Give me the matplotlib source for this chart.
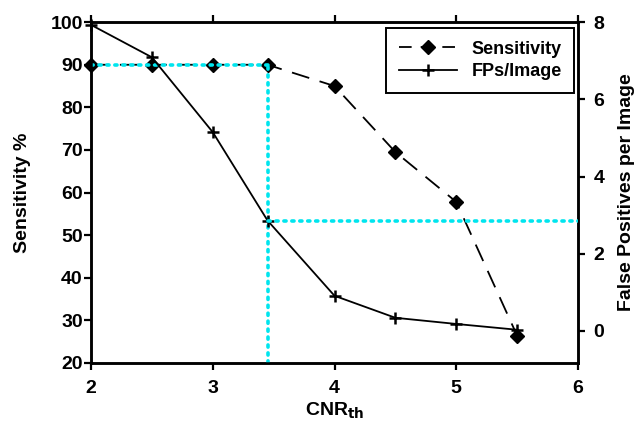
import matplotlib
matplotlib.use("Agg")
import matplotlib.pyplot as plt

plt.rcParams['font.family'] = ['Liberation Sans', 'DejaVu Sans']
plt.rcParams['font.weight'] = 'bold'

# data
cnr = [2, 2.5, 3, 3.45, 4, 4.5, 5, 5.5]
sensitivity = [90, 90, 90, 90, 85, 69.5, 57.8, 26.4]
fps = [7.93, 7.09, 5.15, 2.86, 0.91, 0.34, 0.18, 0.03]

op_cnr = 3.45
op_sens = 90
op_fp = 2.86

fig = plt.figure(figsize=(6.43, 4.26), dpi=100)
ax = fig.add_axes([0.1415, 0.148, 0.7575, 0.8])
ax2 = ax.twinx()

l1, = ax.plot(cnr, sensitivity, color='black', lw=1.3, dashes=(10, 6),
              marker='D', ms=7, mfc='black', mec='black', zorder=3, clip_on=False)
l2, = ax2.plot(cnr, fps, color='black', lw=1.3, marker='+', ms=8, mew=1.8,
               zorder=3, clip_on=False)

# operating point guides (cyan dotted)
cy = dict(color='#00e5ee', lw=2.6, ls=(0, (0.6, 1.6)), dash_capstyle='round', zorder=5)
ax.plot([cnr[0], op_cnr], [op_sens, op_sens], **cy)
ax.plot([op_cnr, op_cnr], [20, op_sens], **cy)
ax2.plot([op_cnr, 6], [op_fp, op_fp], **cy)
ax2.set_zorder(ax.get_zorder() + 1)
ax2.patch.set_visible(False)

ax.set_xlim(2, 6)
ax.set_ylim(20, 100)
ax2.set_ylim(-0.83, 8)
ax.set_xticks([2, 3, 4, 5, 6])
ax.set_yticks(range(20, 101, 10))
ax2.set_yticks([0, 2, 4, 6, 8])

for a in (ax, ax2):
    for s in a.spines.values():
        s.set_linewidth(1.8)
    a.tick_params(direction='out', length=5, width=1.6, labelsize=14)
ax.tick_params(axis='x', top=True, pad=7)
ax.tick_params(axis='y', pad=1)
ax2.tick_params(axis='y', pad=6)

ax.set_xlabel('CNR$_{\\mathbf{th}}$', fontsize=14, fontweight='bold', labelpad=3)
ax.set_ylabel('Sensitivity %', fontsize=14, fontweight='bold', labelpad=14)
ax2.set_ylabel('False Positives per Image', fontsize=14, fontweight='bold', labelpad=10)

leg = ax2.legend([l1, l2], ['Sensitivity', 'FPs/Image'], loc='upper right',
                 bbox_to_anchor=(0.992, 0.9825), borderaxespad=0, fancybox=False,
                 framealpha=1, edgecolor='black', fontsize=13, handlelength=3.2,
                 handletextpad=0.8, borderpad=0.7, labelspacing=0.3)
leg.get_frame().set_linewidth(1.4)
for t in leg.get_texts():
    t.set_fontweight('bold')
# shorter dashes in the legend sample so it reads "— ◆ —"
leg.get_lines()[0].set_dashes((7, 5))

fig.savefig('out.png', dpi=100)
